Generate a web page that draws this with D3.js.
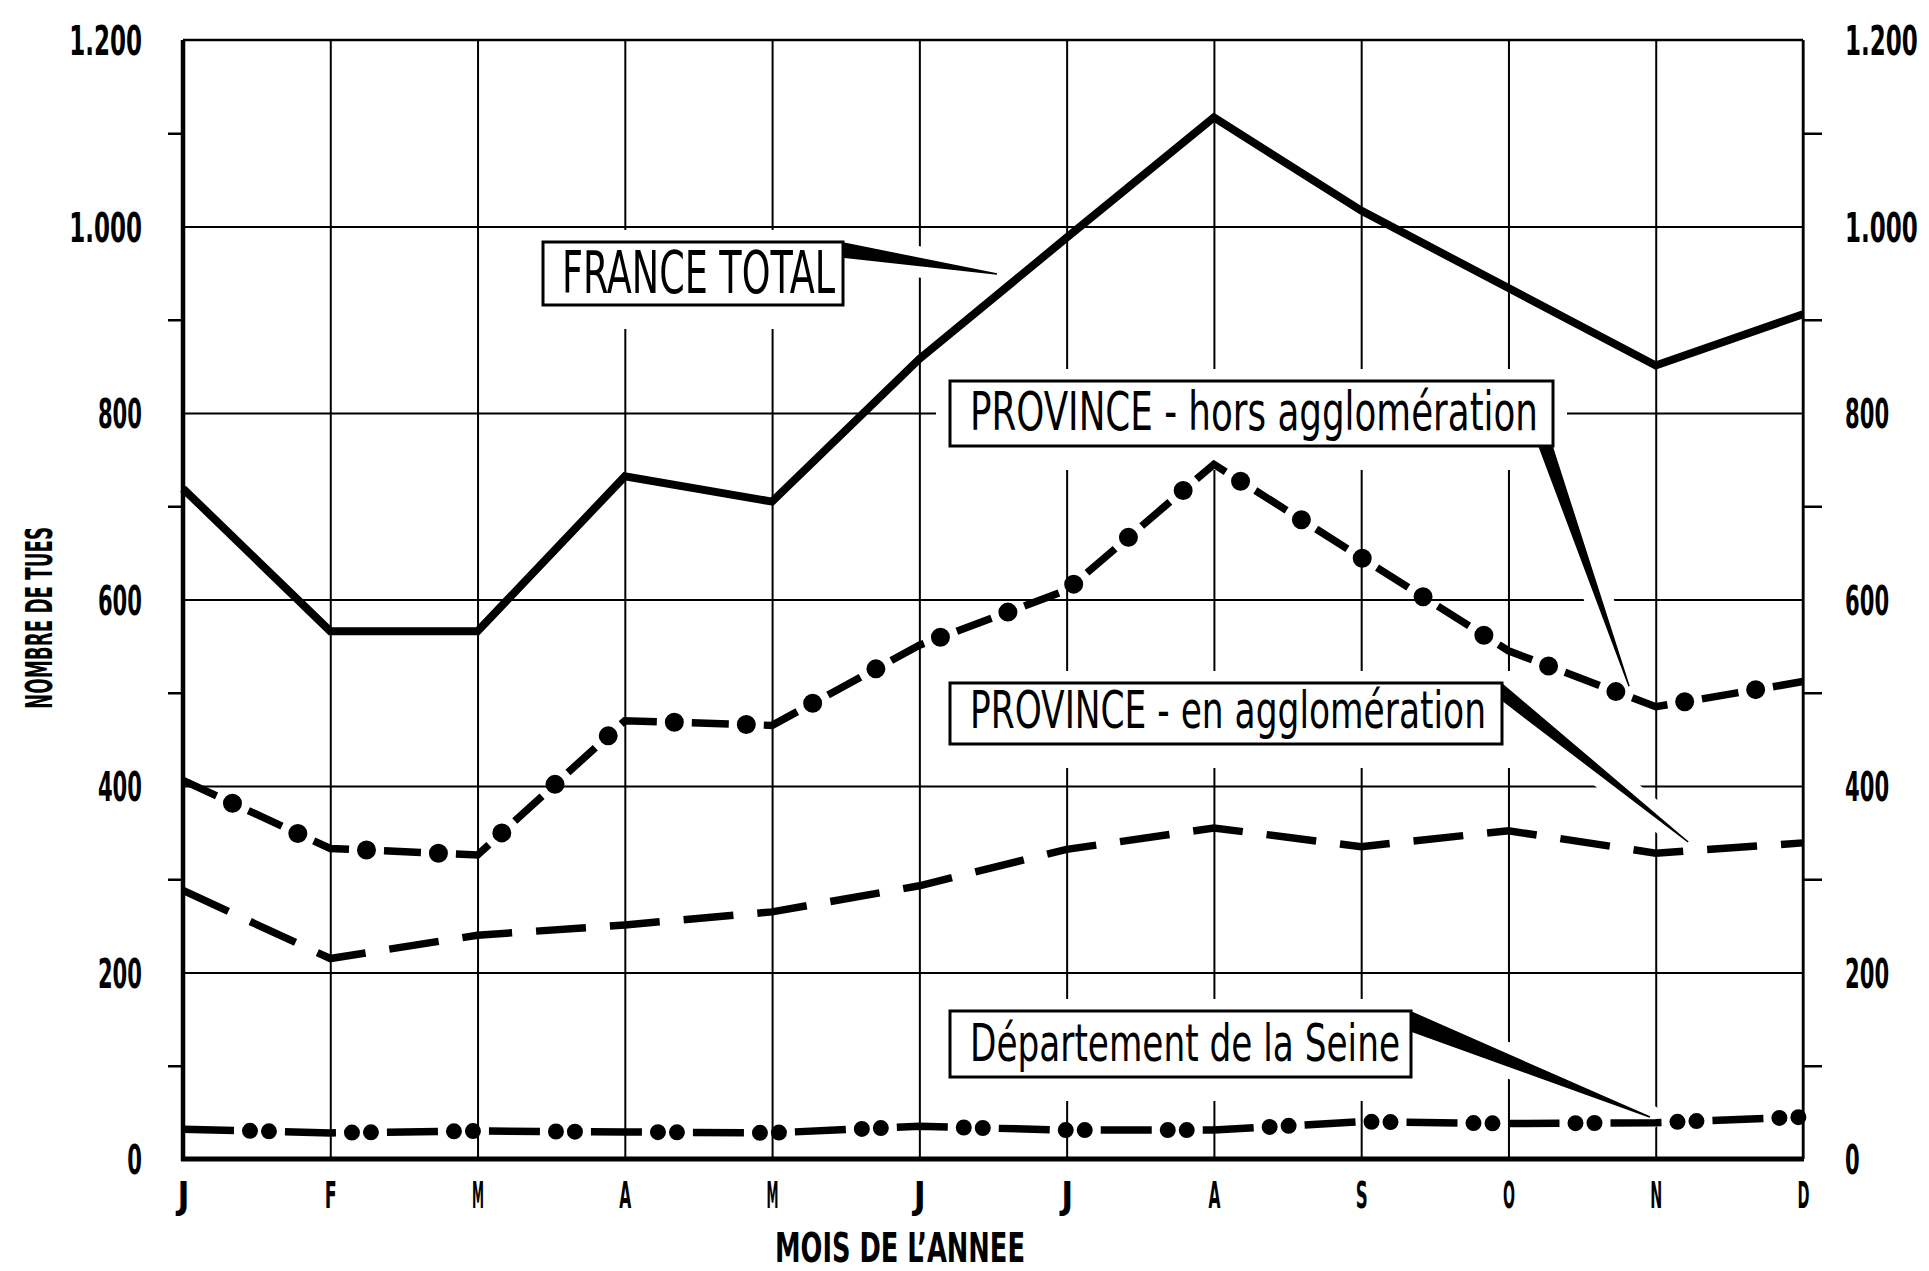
<!DOCTYPE html>
<html lang="fr">
<head>
<meta charset="utf-8">
<title>Nombre de tués par mois</title>
<script src="https://d3js.org/d3.v7.min.js"></script>
<style>
  body { margin: 0; background: #fff; }
  svg text { font-family: "Liberation Sans Narrow", "DejaVu Sans Condensed", sans-serif; fill: #000; }
</style>
</head>
<body>
<div id="chart"></div>
<script>
// values
var months = ["J", "F", "M", "A", "M", "J", "J", "A", "S", "O", "N", "D"];
var franceTotal = [719, 566, 566, 732, 705, 858, 988, 1117, 1017, 934, 851, 906];
var provHors = [406, 333, 326, 470, 465, 551, 610, 745, 645, 545, 485, 512];
var provEn = [288, 215, 240, 251, 265, 293, 332, 355, 335, 352, 328, 339];
var seine = [32, 28, 30, 29, 28, 35, 31, 31, 40, 38, 39, 45];
var majorTicks = [0, 200, 400, 600, 800, 1000, 1200];
var gridTicks = [200, 400, 600, 800, 1000];
var minorTicks = [100, 300, 500, 700, 900, 1100];

//layout
var w = 1929, h = 1271;
var pL = 183, pR = 1803, pT = 40, pB = 1159;

var svg = d3.select("#chart").append("svg").attr("width", w).attr("height", h)
    .style("background", "white");

var x = d3.scaleLinear().domain([0, 11]).range([pL, pR]);
var y = d3.scaleLinear().domain([0, 1200]).range([pB, pT]);

// french number format: 1.200
var fr = d3.formatLocale({decimal: ",", thousands: ".", grouping: [3], currency: ["", ""]});
var fmt = fr.format(",");

// narrow hand lettering -> squeeze to measured width
function labelLen(s) {
    var digits = s.replace(/\D/g, "").length;
    var dots = s.length - digits;
    return digits * 14.7 + dots * 14;
}

// vertical grid (one per month)
svg.append("g").attr("transform", "translate(0," + pB + ")")
    .call(d3.axisBottom(x).tickValues(d3.range(12)).tickSize(-(pB - pT)).tickFormat(""))
    .call(g => g.select(".domain").remove())
    .selectAll("line").attr("stroke", "#000").attr("stroke-width", 2);

// horizontal grid
svg.append("g").attr("transform", "translate(" + pL + ",0)")
    .call(d3.axisLeft(y).tickValues(gridTicks).tickSize(-(pR - pL)).tickFormat(""))
    .call(g => g.select(".domain").remove())
    .selectAll("line").attr("stroke", "#000").attr("stroke-width", 2);

// minor ticks outside, both sides
svg.append("g").attr("transform", "translate(" + pL + ",0)")
    .call(d3.axisLeft(y).tickValues(minorTicks).tickSize(15).tickFormat(""))
    .call(g => g.select(".domain").remove())
    .selectAll("line").attr("stroke", "#000").attr("stroke-width", 2.5);
svg.append("g").attr("transform", "translate(" + pR + ",0)")
    .call(d3.axisRight(y).tickValues(minorTicks).tickSize(19).tickFormat(""))
    .call(g => g.select(".domain").remove())
    .selectAll("line").attr("stroke", "#000").attr("stroke-width", 2.5);

// tick labels left / right
var yl = svg.append("g").attr("transform", "translate(" + pL + ",0)")
    .call(d3.axisLeft(y).tickValues(majorTicks).tickSize(0).tickPadding(41).tickFormat(fmt));
var yr = svg.append("g").attr("transform", "translate(" + pR + ",0)")
    .call(d3.axisRight(y).tickValues(majorTicks).tickSize(0).tickPadding(42).tickFormat(fmt));
[yl, yr].forEach(function(g) {
    g.select(".domain").remove();
    g.attr("font-family", null).attr("font-size", null);
    g.selectAll("text")
        .attr("font-size", 41).attr("font-weight", "bold")
        .attr("dy", "0.36em")
        .attr("textLength", function(d) { return labelLen(fmt(d)); })
        .attr("lengthAdjust", "spacingAndGlyphs");
});

// month letters
var xl = svg.append("g").attr("transform", "translate(0," + pB + ")")
    .call(d3.axisBottom(x).tickValues(d3.range(12)).tickSize(0).tickFormat(function(i) { return months[i]; }));
xl.select(".domain").remove();
xl.attr("font-family", null).attr("font-size", null);
xl.selectAll("text")
    .attr("y", 49).attr("dy", 0)
    .attr("font-size", 38).attr("font-weight", "bold")
    .attr("textLength", 12).attr("lengthAdjust", "spacingAndGlyphs");

// frame
svg.append("line").attr("x1", pL).attr("x2", pR).attr("y1", pT).attr("y2", pT)
    .attr("stroke", "#000").attr("stroke-width", 2.5);
svg.append("line").attr("x1", pR).attr("x2", pR).attr("y1", pT).attr("y2", pB)
    .attr("stroke", "#000").attr("stroke-width", 2.5);
svg.append("line").attr("x1", pL).attr("x2", pL).attr("y1", pT).attr("y2", pB + 2)
    .attr("stroke", "#000").attr("stroke-width", 4.5);
svg.append("line").attr("x1", pL - 2).attr("x2", pR + 1).attr("y1", pB).attr("y2", pB)
    .attr("stroke", "#000").attr("stroke-width", 5);

// axis titles
svg.append("text")
    .attr("transform", "translate(52,618) rotate(-90)")
    .attr("text-anchor", "middle")
    .attr("font-size", 38).attr("font-weight", "bold")
    .attr("textLength", 182).attr("lengthAdjust", "spacingAndGlyphs")
    .text("NOMBRE DE TUES");
svg.append("text")
    .attr("x", 900).attr("y", 1262)
    .attr("text-anchor", "middle")
    .attr("font-size", 40).attr("font-weight", "bold")
    .attr("textLength", 250).attr("lengthAdjust", "spacingAndGlyphs")
    .text("MOIS  DE  L\u2019ANNEE");

// annotation boxes with wedge pointers
var notes = [
    {text: "FRANCE TOTAL", box: [543, 242, 300, 63], size: 58, tx: 562, ty: 293, len: 273,
     base: [[843, 243], [843, 257]], at: [5.527, 949]},
    {text: "PROVINCE - hors agglomération", box: [950, 381, 603, 65], size: 54, tx: 970, ty: 430, len: 568,
     base: [[1539, 446], [1552, 446]], at: [9.819, 507]},
    {text: "PROVINCE  -  en agglomération", box: [950, 683, 552, 61], size: 51, tx: 970, ty: 728, len: 516,
     base: [[1502, 684], [1502, 700]], at: [10.22, 340]},
    {text: "Département de la Seine", box: [950, 1011, 461, 66], size: 51, tx: 970, ty: 1061, len: 430,
     base: [[1411, 1012], [1411, 1031]], at: [9.96, 45]}
];

function wedge(n) {
    var apex = [x(n.at[0]), y(n.at[1])];
    return "M" + n.base[0] + "L" + apex + "L" + n.base[1] + "Z";
}

// white halos break the grid round the labels
var halo = svg.append("g");
notes.forEach(function(n) {
    halo.append("rect")
        .attr("x", n.box[0] - 14).attr("y", n.box[1] - 12)
        .attr("width", n.box[2] + 28).attr("height", n.box[3] + 36)
        .attr("fill", "white");
    halo.append("path").attr("d", wedge(n))
        .attr("fill", "white").attr("stroke", "white")
        .attr("stroke-width", 24).attr("stroke-linejoin", "round");
});

// series
var line = d3.line().x(function(d, i) { return x(i); }).y(function(d) { return y(d); });

svg.append("path").datum(franceTotal).attr("d", line)
    .attr("fill", "none").attr("stroke", "#000").attr("stroke-width", 8);

svg.append("path").datum(provEn).attr("d", line)
    .attr("fill", "none").attr("stroke", "#000").attr("stroke-width", 7.5)
    .attr("stroke-dasharray", "50 24");

svg.append("path").datum(provHors).attr("d", line)
    .attr("fill", "none").attr("stroke", "#000").attr("stroke-width", 7.5)
    .attr("stroke-dasharray", "37 35");
svg.append("path").datum(provHors).attr("d", line)
    .attr("fill", "none").attr("stroke", "#000").attr("stroke-width", 19)
    .attr("stroke-linecap", "round")
    .attr("stroke-dasharray", "0 72").attr("stroke-dashoffset", -54.5);

svg.append("path").datum(seine).attr("d", line)
    .attr("fill", "none").attr("stroke", "#000").attr("stroke-width", 7.5)
    .attr("stroke-dasharray", "51 51");
svg.append("path").datum(seine).attr("d", line)
    .attr("fill", "none").attr("stroke", "#000").attr("stroke-width", 16)
    .attr("stroke-linecap", "round")
    .attr("stroke-dasharray", "0 19 0 83").attr("stroke-dashoffset", -67);

// boxes, texts, pointers
notes.forEach(function(n) {
    svg.append("rect")
        .attr("x", n.box[0]).attr("y", n.box[1])
        .attr("width", n.box[2]).attr("height", n.box[3])
        .attr("fill", "white").attr("stroke", "#000").attr("stroke-width", 3);
    svg.append("text")
        .attr("x", n.tx).attr("y", n.ty)
        .attr("font-size", n.size)
        .attr("textLength", n.len).attr("lengthAdjust", "spacingAndGlyphs")
        .text(n.text);
    svg.append("path").attr("d", wedge(n)).attr("fill", "#000")
        .attr("stroke", "#000").attr("stroke-width", 1.5).attr("stroke-linejoin", "miter");
});
</script>
</body>
</html>
